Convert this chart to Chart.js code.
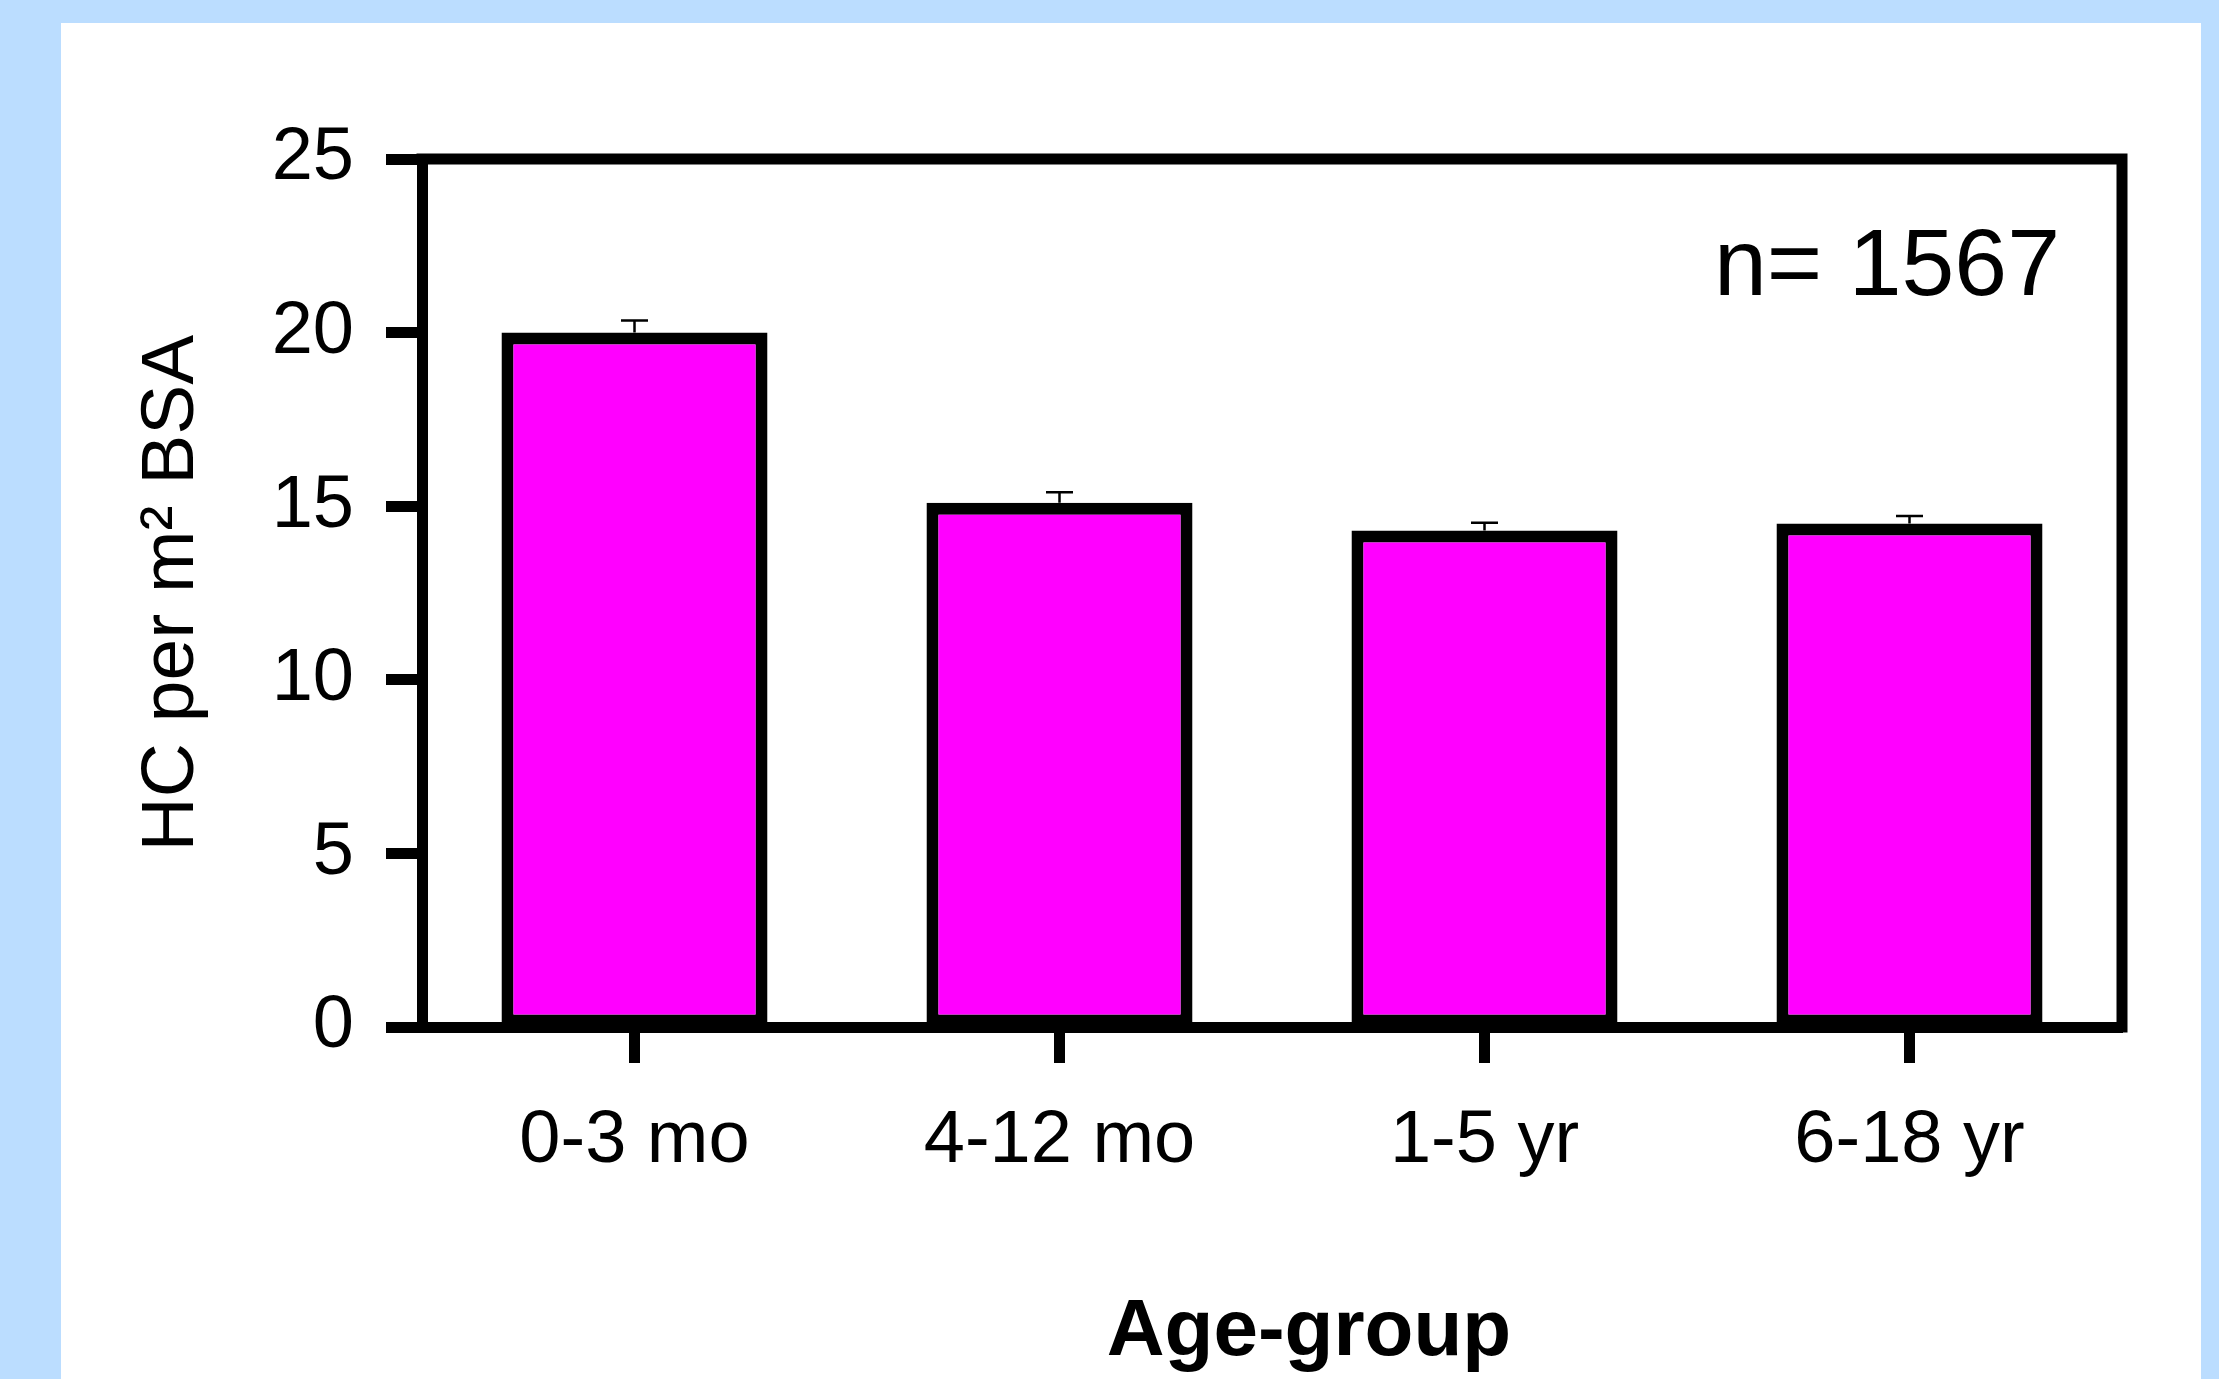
<!DOCTYPE html>
<html>
<head>
<meta charset="utf-8">
<script src="https://cdn.jsdelivr.net/npm/chart.js@4"></script>
<style>
  html, body { margin: 0; padding: 0; width: 2219px; height: 1379px; overflow: hidden; background: #BBDDFF; }
  #panel { position: absolute; left: 61px; top: 23px; width: 2140px; height: 1356px; background: #FFFFFF; }
  #wrap { position: absolute; left: 0; top: 0; width: 2219px; height: 1379px; }
</style>
</head>
<body>
<div id="panel"></div>
<div id="wrap"><canvas id="c" width="2219" height="1379"></canvas></div>
<script>
// ---- data ----
const categories = ['0-3 mo', '4-12 mo', '1-5 yr', '6-18 yr'];
const hcValues = [20.0, 15.1, 14.3, 14.5];
const hcErrors = [0.35, 0.3, 0.22, 0.22];
const yTickValues = [0, 5, 10, 15, 20, 25];
const yAxisTitle = 'HC per m² BSA';
const xAxisTitle = 'Age-group';
const annotationText = 'n= 1567';

const FONT = "'Liberation Sans', Arial, Helvetica, sans-serif";

const framePlugin = {
  id: 'frame',
  afterDraw(chart) {
    const ctx = chart.ctx, a = chart.chartArea;
    ctx.save();
    ctx.strokeStyle = '#000';
    ctx.lineWidth = 11;
    ctx.lineCap = 'butt';
    ctx.beginPath();
    ctx.moveTo(a.left - 5.5, a.top);
    ctx.lineTo(a.right + 5.5, a.top);
    ctx.moveTo(a.right, a.top);
    ctx.lineTo(a.right, a.bottom + 5.5);
    ctx.stroke();
    ctx.restore();
  }
};

const errorBarPlugin = {
  id: 'errorBars',
  afterDatasetsDraw(chart) {
    const ctx = chart.ctx, y = chart.scales.y;
    const meta = chart.getDatasetMeta(0);
    ctx.save();
    ctx.strokeStyle = '#000';
    ctx.lineWidth = 2.5;
    meta.data.forEach((bar, i) => {
      const x = bar.x;
      const y0 = y.getPixelForValue(hcValues[i]);
      const y1 = y.getPixelForValue(hcValues[i] + hcErrors[i]);
      ctx.beginPath();
      ctx.moveTo(x, y0);
      ctx.lineTo(x, y1);
      ctx.moveTo(x - 13.5, y1);
      ctx.lineTo(x + 13.5, y1);
      ctx.stroke();
    });
    ctx.restore();
  }
};

const textPlugin = {
  id: 'texts',
  afterDraw(chart) {
    const ctx = chart.ctx, a = chart.chartArea;
    ctx.save();
    ctx.fillStyle = '#000';
    ctx.textBaseline = 'alphabetic';
    // n annotation
    ctx.font = '95px ' + FONT;
    ctx.textAlign = 'right';
    ctx.fillText(annotationText, a.right - 62, a.top + 136);
    // x axis title
    ctx.font = 'bold 80px ' + FONT;
    ctx.textAlign = 'center';
    ctx.fillText(xAxisTitle, (a.left + a.right) / 2 + 37, a.bottom + 328);
    ctx.restore();
  }
};

new Chart(document.getElementById('c'), {
  type: 'bar',
  data: {
    labels: categories,
    datasets: [{
      data: hcValues,
      backgroundColor: '#FF00FF',
      borderColor: '#000000',
      borderWidth: 12,
      borderSkipped: false,
      categoryPercentage: 1.0,
      barPercentage: 0.626
    }]
  },
  options: {
    responsive: false,
    animation: false,
    devicePixelRatio: 1,
    layout: { padding: { left: 0, top: 159, right: 97, bottom: 0 } },
    plugins: { legend: { display: false }, tooltip: { enabled: false }, title: { display: false } },
    scales: {
      x: {
        z: 1,
        offset: true,
        grid: { display: true, offset: false, drawOnChartArea: false, drawTicks: true, tickLength: 36, tickWidth: 11, tickColor: '#000' },
        border: { display: true, color: '#000', width: 11 },
        ticks: { color: '#000', font: { family: FONT, size: 74 }, padding: 34, maxRotation: 0, autoSkip: false },
        title: { display: false, text: xAxisTitle },
        afterFit(scale) { scale.height = 352; }
      },
      y: {
        min: 0,
        max: 25,
        afterBuildTicks(scale) { scale.ticks = yTickValues.map(v => ({ value: v })); },
        grid: { display: true, drawOnChartArea: false, drawTicks: true, tickLength: 36, tickWidth: 11, tickColor: '#000' },
        border: { display: true, color: '#000', width: 11 },
        ticks: { color: '#000', font: { family: FONT, size: 74 }, padding: 32 },
        title: { display: true, text: yAxisTitle, color: '#000', font: { family: FONT, size: 75 }, padding: { top: 127, bottom: 0 } },
        afterFit(scale) { scale.width = 422; }
      }
    }
  },
  plugins: [errorBarPlugin, framePlugin, textPlugin]
});
</script>
</body>
</html>
